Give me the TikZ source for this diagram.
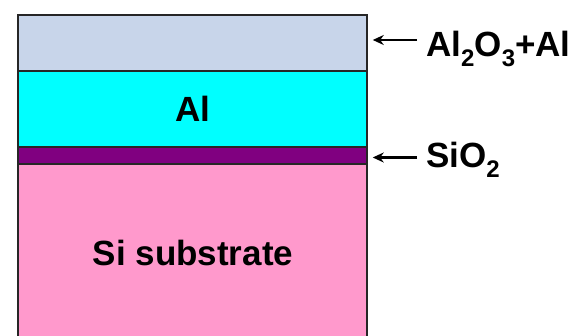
\documentclass[tikz,border=0pt]{standalone}
\usepackage{fontspec}
\setmainfont{Liberation Sans}
\usepackage{tikz}
\usetikzlibrary{arrows.meta,calc,positioning}
\definecolor{oxidegrey}{RGB}{200,213,234}
\definecolor{alcyan}{RGB}{0,255,255}
\definecolor{sipurple}{RGB}{128,0,128}
\definecolor{sipink}{RGB}{255,153,204}
\newcommand{\lowsub}[1]{\raisebox{-10pt}{\fontsize{24}{24}\selectfont #1}}
\tikzset{
  layer/.style={
    draw=black!85,
    line width=1.5pt,
    minimum width=349pt,
    inner sep=0pt,
    font=\fontsize{35}{40}\selectfont\bfseries
  },
  tag/.style={
    inner sep=0pt,
    font=\fontsize{35}{40}\selectfont\bfseries
  },
  arrow/.style={
    -{Stealth[length=11pt,width=10pt]},
    line width=2.5pt,
    black
  }
}
\begin{document}
\begin{tikzpicture}[x=1pt,y=-1pt]
\clip (0,0) rectangle (571,336);
% layer stack
\node[layer, fill=sipink, minimum height=190pt, anchor=north] (sub) at (192.5,164) {};
\node[layer, fill=oxidegrey, minimum height=56pt] (oxal) at (192.5,43) {};
\node[layer, fill=alcyan, minimum height=76pt] (al) at (192.5,109) {Al};
\node[layer, fill=sipurple, minimum height=17pt] (sio) at (192.5,155.5) {};
\node[tag] (sublbl) at (193,253) {Si substrate};
% labels on the right
\node[tag, anchor=base west] (oxlbl) at (426,57) {Al\lowsub{2}O\lowsub{3}+Al};
\node[tag, anchor=base west] (siolbl) at (426,168) {SiO\lowsub{2}};
\coordinate (oxtip) at ($(oxal.east)+(5,-3)$);
\coordinate (siotip) at ($(sio.east)+(5,2)$);
\draw[arrow] ([xshift=-9pt]oxlbl.west |- oxtip) -- (oxtip);
\draw[arrow] ([xshift=-9pt]siolbl.west |- siotip) -- (siotip);
\end{tikzpicture}
\end{document}
